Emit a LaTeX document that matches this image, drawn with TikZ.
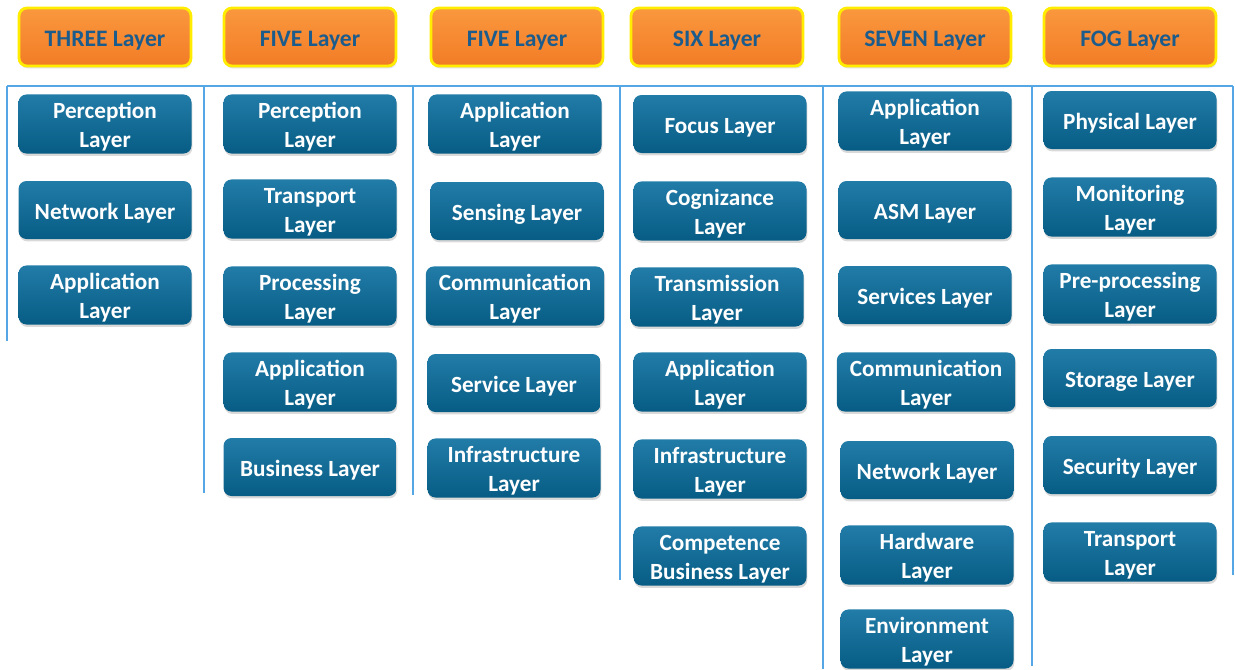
\documentclass[tikz,border=0pt]{standalone}
\usepackage{fontspec}
\setmainfont{Carlito}
\usepackage{tikz}
\usetikzlibrary{shadows}
\definecolor{headtop}{RGB}{250,152,62}
\definecolor{headbot}{RGB}{242,124,38}
\definecolor{headrim}{RGB}{255,236,0}
\definecolor{headtext}{RGB}{28,92,140}
\definecolor{laytop}{RGB}{34,124,168}
\definecolor{laymid}{RGB}{14,104,146}
\definecolor{laybot}{RGB}{6,92,132}
\definecolor{gridblue}{RGB}{84,166,228}
\newcommand{\topstrut}{\rule{0pt}{11.2pt}}

\begin{document}
\begin{tikzpicture}[x=0.5pt,y=-0.5pt,
    headbox/.style={rounded corners=4pt,draw=headrim,line width=1.4pt,
      top color=headtop,bottom color=headbot,minimum width=86pt,minimum height=29pt,
      text=headtext,font=\bfseries\fontsize{11.8}{14.5}\selectfont,
      drop shadow={opacity=0.25,shadow xshift=0.4pt,shadow yshift=-1.2pt}},
    layerbox/.style={rounded corners=4pt,top color=laytop,middle color=laymid,bottom color=laybot,
      minimum width=86.5pt,minimum height=29pt,inner xsep=6.5pt,inner ysep=1pt,align=center,
      text=white,font=\bfseries\fontsize{11.6}{14.5}\selectfont,
      drop shadow={opacity=0.3,shadow xshift=0.4pt,shadow yshift=-1.2pt}},
    gridline/.style={draw=gridblue,line width=0.8pt}]
  \useasboundingbox (0,0) rectangle (1235,669);
  % headers
  \foreach \x/\name/\txt in {105/three/THREE Layer, 310/fivea/FIVE Layer, 517/fiveb/FIVE Layer,
      717/six/SIX Layer, 925/seven/SEVEN Layer, 1130/fog/FOG Layer}
    \node[headbox] (\name) at (\x,37) {\rule{0pt}{11.6pt}\txt};
  % grid lines
  \draw[gridline] (7,86) -- (1233,86);
  \foreach \x/\yend in {7/341, 204/493, 413/495, 620/580, 823/669, 1032/666, 1233/575}
    \draw[gridline] (\x,86) -- (\x,\yend);
  % THREE
  \foreach \pos/\name/\txt in {{(105,124)/tper/{Perception\\Layer}}, {(105,210)/tnet/{Network Layer}},
      {(105,295)/tapp/{Application\\Layer}}}
    \node[layerbox] (\name) at \pos {\topstrut\txt};
  % FIVE (a)
  \foreach \pos/\name/\txt in {{(310,124)/aper/{Perception\\Layer}}, {(310,209)/atra/{Transport\\Layer}},
      {(310,296)/apro/{Processing\\Layer}}, {(310,382)/aapp/{Application\\Layer}},
      {(310,467)/abus/{Business Layer}}}
    \node[layerbox] (\name) at \pos {\topstrut\txt};
  % FIVE (b)
  \foreach \pos/\name/\txt in {{(515,124)/bapp/{Application\\Layer}}, {(517,211)/bsen/{Sensing Layer}},
      {(515,296)/bcom/{Communication\\Layer}}, {(514,383)/bser/{Service Layer}},
      {(514,468)/binf/{Infrastructure\\Layer}}}
    \node[layerbox] (\name) at \pos {\topstrut\txt};
  % SIX
  \foreach \pos/\name/\txt in {{(720,124)/sfoc/{Focus Layer}}, {(720,211)/scog/{Cognizance\\Layer}},
      {(717,297)/stra/{Transmission\\Layer}}, {(720,382)/sapp/{Application\\Layer}},
      {(720,469)/sinf/{Infrastructure\\Layer}}, {(720,556)/scbl/{Competence\\Business Layer}}}
    \node[layerbox] (\name) at \pos {\topstrut\txt};
  % SEVEN
  \foreach \pos/\name/\txt in {{(925,121)/vapp/{Application\\Layer}}, {(925,210)/vasm/{ASM Layer}},
      {(925,295)/vser/{Services Layer}}, {(926,382)/vcom/{Communication\\Layer}},
      {(927,470)/vnet/{Network Layer}}, {(927,555)/vhar/{Hardware\\Layer}},
      {(927,639)/venv/{Environment\\Layer}}}
    \node[layerbox] (\name) at \pos {\topstrut\txt};
  % FOG
  \foreach \pos/\name/\txt in {{(1130,120)/fphy/{Physical Layer}}, {(1130,207)/fmon/{Monitoring\\Layer}},
      {(1130,294)/fpre/{Pre-processing\\Layer}}, {(1130,378)/fsto/{Storage Layer}},
      {(1130,465)/fsec/{Security Layer}}, {(1130,552)/ftra/{Transport\\Layer}}}
    \node[layerbox] (\name) at \pos {\topstrut\txt};
\end{tikzpicture}
\end{document}
